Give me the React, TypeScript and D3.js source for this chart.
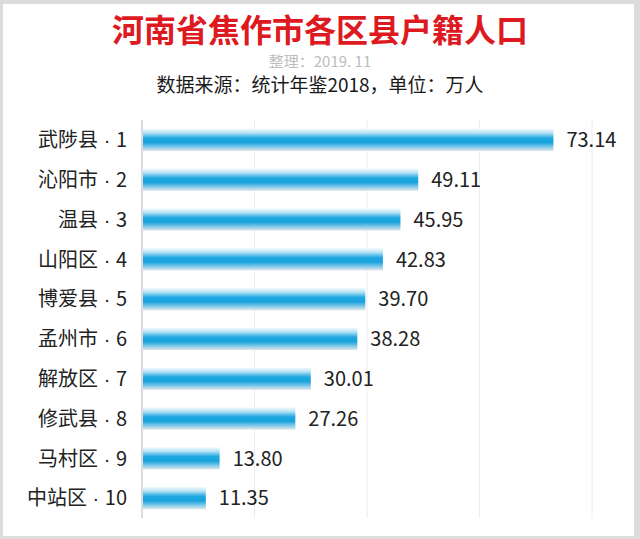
import React from 'react'
import * as d3 from 'd3'

const W = 640
const H = 539

const districts = ['武陟县', '沁阳市', '温县', '山阳区', '博爱县', '孟州市', '解放区', '修武县', '马村区', '中站区']
const ranks = ['1', '2', '3', '4', '5', '6', '7', '8', '9', '10']
const population = [73.14, 49.11, 45.95, 42.83, 39.7, 38.28, 30.01, 27.26, 13.8, 11.35]
const gridTicks = [0, 20, 40, 60, 80]

const title = '河南省焦作市各区县户籍人口'
const note = '整理：2019. 11'
const source = '数据来源：统计年鉴2018，单位：万人'

const FONT = '"Noto Sans CJK SC", "Microsoft YaHei", sans-serif'
const DOT_FONT = '"Liberation Sans", Arial, sans-serif'

export default function App() {
  const x = d3.scaleLinear().domain([0, 80]).range([142, 592])
  const y = d3.scaleBand<string>().domain(districts).range([120, 518]).paddingInner(0.44).paddingOuter(0.22)
  const bw = y.bandwidth()

  return (
    <svg width={W} height={H} style={{ display: 'block', position: 'absolute', left: 0, top: 0 }}>
      <defs>
        <linearGradient id="barFill" x1="0" y1="0" x2="0" y2="1">
          <stop offset="0%" stopColor="#f2fafd" />
          <stop offset="18%" stopColor="#b9e3f6" />
          <stop offset="42%" stopColor="#1fa8e1" />
          <stop offset="62%" stopColor="#18a2dc" />
          <stop offset="85%" stopColor="#8fcfec" />
          <stop offset="100%" stopColor="#e4e6e8" />
        </linearGradient>
      </defs>
      <rect x={0} y={0} width={W} height={H} fill="#dcdcdc" />
      <rect x={3} y={4} width={631} height={532} fill="#ffffff" />

      <text x={320} y={42} textAnchor="middle" fontFamily={FONT} fontSize={32} fontWeight={700} fill="#dd1a1f">
        {title}
      </text>
      <text x={320} y={67} textAnchor="middle" fontFamily={FONT} fontSize={15} fill="#bdbdbd">
        {note}
      </text>
      <text x={320} y={92} textAnchor="middle" fontFamily={FONT} fontSize={19} fill="#1a1a1a">
        {source}
      </text>

      {gridTicks.map(t => (
        <line key={t} x1={x(t)} x2={x(t)} y1={120} y2={518}
          stroke={t === 0 ? '#cfcfcf' : '#ececec'} strokeWidth={t === 0 ? 1.5 : 1} />
      ))}

      {districts.map((d, i) => {
        const y0 = y(d) ?? 0
        const cy = y0 + bw / 2
        return (
          <g key={d}>
            <rect x={x(0) + 1} y={y0} width={x(population[i]) - x(0) - 1} height={bw} fill="url(#barFill)" />
            <text x={127} y={cy} dy="0.36em" textAnchor="end" fontFamily={FONT} fontSize={20} fill="#222">
              {d}
              <tspan fontFamily={DOT_FONT}>{' · '}</tspan>
              {ranks[i]}
            </text>
            <text x={x(population[i]) + 13} y={cy} dy="0.36em" fontFamily={FONT} fontSize={20} fill="#222">
              {population[i].toFixed(2)}
            </text>
          </g>
        )
      })}
    </svg>
  )
}
